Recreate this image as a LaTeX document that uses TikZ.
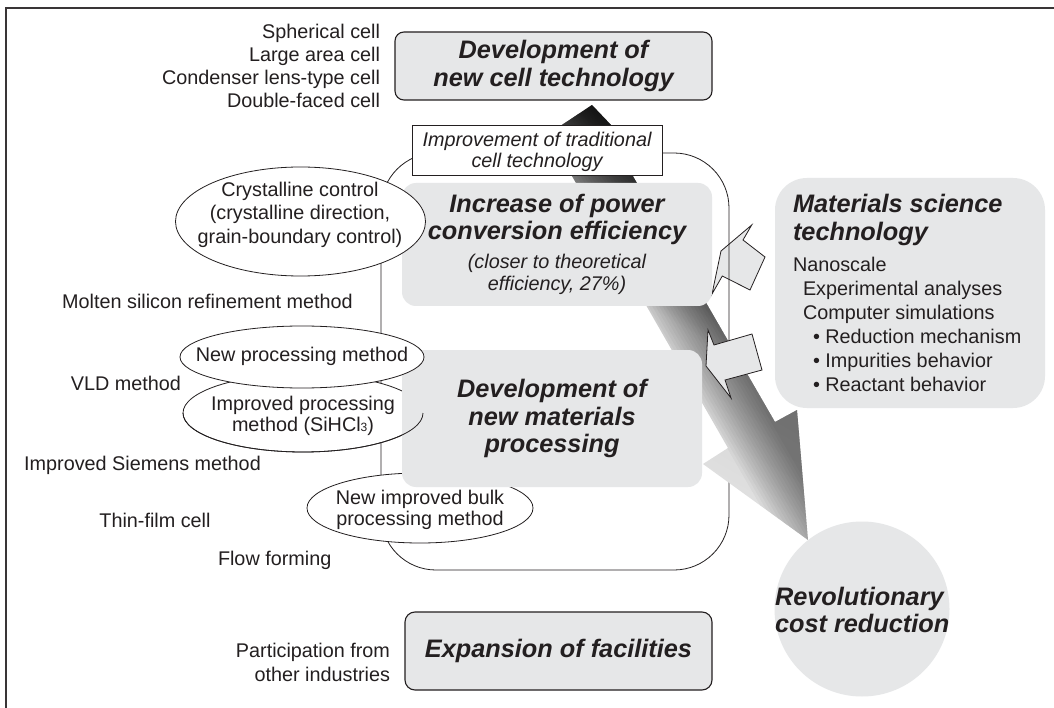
\documentclass[tikz,border=0pt]{standalone}
\usepackage{fontspec}
\setmainfont{Liberation Sans}
\usetikzlibrary{shapes.geometric}
\definecolor{boxgray}{RGB}{230,231,232}
\definecolor{ink}{RGB}{35,31,32}
\newcommand{\bodyfs}{\fontsize{19.8}{23.5}\selectfont}
\newcommand{\headfs}{\fontsize{25.3}{27.5}\selectfont\bfseries\itshape}
\newcommand{\flowarrowpath}{(592,105) -- (631,146) -- (619,152) -- (775,422) -- (797,410) -- (808,540)
  -- (703,464) -- (728,448) -- (557,150) -- (542,138) -- cycle}
\begin{document}
\begin{tikzpicture}[x=1pt,y=-1pt,
  every node/.style={inner sep=0pt, outer sep=0pt, text=ink},
  lbl/.style={font=\bodyfs},
  ttl/.style={font=\headfs},
  panel/.style={rectangle, fill=boxgray, rounded corners=#1},
  framed/.style={draw=ink, line width=1.1pt},
  oval/.style={ellipse, draw=ink, line width=0.8pt, fill=white},
  loopline/.style={draw=ink, line width=0.8pt},
  callout/.style={draw=ink, line width=0.8pt, fill=boxgray, line join=miter},
]
\useasboundingbox (0,0) rectangle (1054,708);
\clip (0,0) rectangle (1054,708);
\fill[white] (0,0) rectangle (1054,708);

% page frame
\draw[ink!90, line width=1.8pt] (6,720) -- (6,8) -- (1070,8);

% upper influence arrow from materials science
\draw[callout] (751.7,225) -- (743,240) -- (765,257) -- (750,290) -- (722.3,276) -- (712,294) -- (721,251) -- cycle;

% improvement loop
\draw[loopline, rounded corners=55pt] (381,153) rectangle (729,570);

% main flow arrow: dark at the top, fading toward the cost-reduction end
\shade[top color=black, bottom color=gray!18, middle color=gray!36, shading angle=-30] \flowarrowpath;
% darker along its right flank
\begin{scope}
  \clip \flowarrowpath;
  \begin{scope}[shift={(808,540)}]
    \foreach \k in {-24,-21,...,27} {
      \fill[black, opacity=0.03]
        ({\k*0.866+5},{-\k*0.5+8.66}) -- ({60*0.866+5},{-30+8.66})
        -- ({60*0.866-260},{-30-450.3}) -- ({\k*0.866-260},{-\k*0.5-450.3}) -- cycle;
    }
  \end{scope}
\end{scope}

% lower influence arrow from materials science
\draw[callout] (708,330) -- (714,345) -- (752,334) -- (762,370) -- (725,380) -- (731,398) -- (706,366) -- cycle;

% ovals partly hidden by the processing panel
\node[oval, minimum width=240pt, minimum height=78pt] (improvedproc) at (303,413) {};
\node[oval, minimum width=226pt, minimum height=70pt] (bulk) at (420,508) {};

% panels
\node[panel=9pt, framed, minimum width=317pt, minimum height=68pt, ttl, align=center] (devcell) at (553.5,66) {Development of\\new cell technology};
\node[panel=14pt, minimum width=310pt, minimum height=123pt] (incr) at (557,244.5) {};
\node[ttl, align=center] (incrtxt) at (557,219.4) {Increase of power\\conversion efficiency};
\node[lbl, align=center, font=\fontsize{19.8}{22}\selectfont\itshape] (incrsub) at (557,274) {(closer to theoretical\\efficiency, 27\%)};
\node[panel=14pt, minimum width=300pt, minimum height=137pt, ttl, align=center] (newmat) at (552,418.5) {Development of\\new materials\\processing};
\node[panel=32pt, minimum width=270pt, minimum height=230pt] (matsci) at (910,293) {};
\node[ttl, align=left, anchor=north west] (matscititle) at (793,194.4) {Materials science\\technology};
\node[lbl, align=left, anchor=north west, font=\fontsize{19.8}{24}\selectfont] (matscibody) at (793,257.5)
  {Nanoscale\\\hspace*{10pt}Experimental analyses\\\hspace*{10pt}Computer simulations\\\hspace*{20pt}• Reduction mechanism\\\hspace*{20pt}• Impurities behavior\\\hspace*{20pt}• Reactant behavior};
\node[panel=10pt, framed, minimum width=307pt, minimum height=78pt, ttl] (facil) at (558.5,651) {Expansion of facilities};
\node[circle, fill=boxgray, minimum size=175pt] (costcirc) at (862,609) {};
\node[ttl, align=left, anchor=north west] (costtxt) at (775,586.7) {Revolutionary\\cost reduction};

% improvement label on the arrow
\node[draw=ink, fill=white, line width=1pt, minimum width=250pt, minimum height=50pt] (improve) at (537,151) {};
\node[lbl, align=center, font=\fontsize{19.8}{21}\selectfont\itshape] (improvetxt) at (537,152.2) {Improvement of traditional\\cell technology};

% ovals on top
\node[oval, minimum width=250pt, minimum height=109pt] (crys) at (300.5,221.5) {};
\node[lbl, align=center] (crystxt) at (300,214.4) {Crystalline control\\(crystalline direction,\\grain-boundary control)};
\node[oval, minimum width=244pt, minimum height=62pt] (newproc) at (302,357) {};
\node[lbl, anchor=base] (newproctxt) at (302,361.7) {New processing method};
% upper rim of the lower oval stays visible across the one above
\draw[ink, line width=0.8pt] (improvedproc.west) arc[start angle=180, end angle=360, x radius=120pt, y radius=39pt];
\node[lbl, align=center, font=\fontsize{19.8}{21}\selectfont] (improvedtxt) at (303,416) {Improved processing\\method (SiHCl{\fontsize{12}{12}\selectfont 3})};
\node[lbl, align=center, font=\fontsize{19.8}{21}\selectfont] (bulktxt) at (420,510) {New improved bulk\\processing method};

% side labels
\node[lbl, align=right, anchor=north east, font=\fontsize{19.8}{23}\selectfont] (celltypes) at (380,23.8)
  {Spherical cell\\Large area cell\\Condenser lens-type cell\\Double-faced cell};
\node[lbl, anchor=base] (molten) at (207.5,308.5) {Molten silicon refinement method};
\node[lbl, anchor=base] (vld) at (126,390.5) {VLD method};
\node[lbl, anchor=base] (siemens) at (142.5,470) {Improved Siemens method};
\node[lbl, anchor=base] (thinfilm) at (155,527) {Thin-film cell};
\node[lbl, anchor=base west] (flow) at (218,565) {Flow forming};
\node[lbl, align=right, anchor=north east, font=\fontsize{19.8}{24}\selectfont] (particip) at (390,643.5) {Participation from\\other industries};
\end{tikzpicture}
\end{document}
